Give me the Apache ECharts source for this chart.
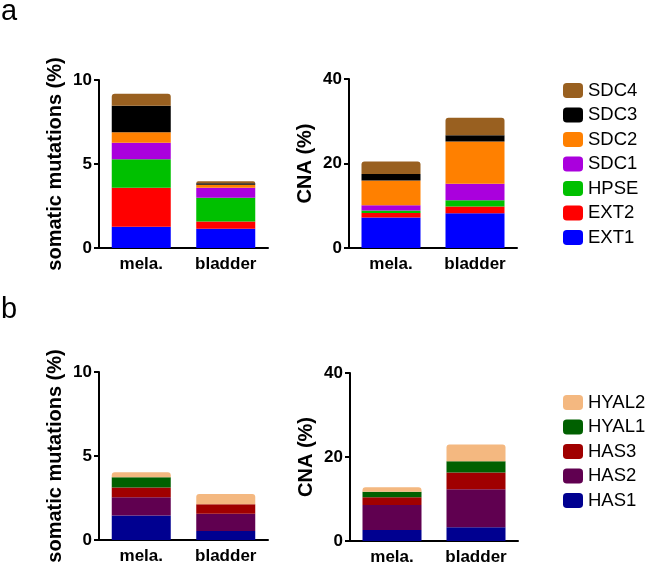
<!DOCTYPE html>
<html><head><meta charset="utf-8">
<script src="https://cdn.jsdelivr.net/npm/echarts@6/dist/echarts.min.js"></script>
<style>html,body{margin:0;padding:0;background:#fff}#c{width:645px;height:566px}</style>
</head><body><div id="c"></div>
<script>
const categories = ['mela.', 'bladder'];
const genesA = ['EXT1', 'EXT2', 'HPSE', 'SDC1', 'SDC2', 'SDC3', 'SDC4'];
const genesB = ['HAS1', 'HAS2', 'HAS3', 'HYAL1', 'HYAL2'];
// panel a: somatic mutations (%), per gene in genesA order
const mutA_mela    = [1.27, 2.32, 1.69, 0.99, 0.62, 1.58, 0.71];
const mutA_bladder = [1.15, 0.42, 1.42, 0.60, 0.17, 0.10, 0.12];
// panel a: CNA (%)
const cnaA_mela    = [7.2, 1.1, 0.6, 1.2, 5.9, 1.5, 3.0];
const cnaA_bladder = [8.2, 1.6, 1.5, 3.9, 10.0, 1.5, 4.1];
// panel b: somatic mutations (%), per gene in genesB order
const mutB_mela    = [1.46, 1.09, 0.57, 0.61, 0.30];
const mutB_bladder = [0.53, 1.03, 0.57, 0.0, 0.61];
// panel b: CNA (%)
const cnaB_mela    = [2.6, 6.0, 1.8, 1.3, 1.1];
const cnaB_bladder = [3.25, 9.05, 4.0, 2.7, 4.0];
const mutTicks = [0, 5, 10];
const cnaTicks = [0, 20, 40];

const colorsA = ['#0000FF', '#FF0000', '#00C000', '#AA00DD', '#FF8000', '#000000', '#996020'];
const colorsB = ['#000090', '#600050', '#A00000', '#006000', '#F4B880'];

const FONT = '"Liberation Sans", Arial, sans-serif';
const grids = [
  {left: 99, top: 80, width: 169, height: 168},
  {left: 349, top: 79, width: 168, height: 169},
  {left: 99, top: 372, width: 169, height: 168},
  {left: 350, top: 373, width: 168, height: 168}
];
const yNames = ['somatic mutations (%)', 'CNA (%)', 'somatic mutations (%)', 'CNA (%)'];
const yTicks = [mutTicks, cnaTicks, mutTicks, cnaTicks];

const xAxis = grids.map((g, i) => ({
  type: 'category', gridIndex: i, data: categories,
  axisLine: {lineStyle: {color: '#000', width: 2}},
  axisTick: {alignWithLabel: true, length: 5, lineStyle: {color: '#000', width: 2}},
  axisLabel: {color: '#000', fontFamily: FONT, fontWeight: 'bold', fontSize: 17, margin: 8}
}));
const yAxis = grids.map((g, i) => ({
  type: 'value', gridIndex: i,
  min: yTicks[i][0], max: yTicks[i][yTicks[i].length - 1], interval: yTicks[i][1] - yTicks[i][0],
  name: yNames[i], nameLocation: 'middle', nameRotate: 90, nameGap: 34,
  nameTextStyle: {color: '#000', fontFamily: FONT, fontWeight: 'bold', fontSize: 20},
  axisLine: {show: true, lineStyle: {color: '#000', width: 2}},
  axisTick: {show: true, length: 5, lineStyle: {color: '#000', width: 2}},
  splitLine: {show: false},
  axisLabel: {color: '#000', fontFamily: FONT, fontWeight: 'bold', fontSize: 17, margin: 7}
}));

const series = [];
function addPanel(idx, genes, colors, mela, bladder) {
  genes.forEach((name, k) => {
    series.push({
      type: 'bar', name: name, xAxisIndex: idx, yAxisIndex: idx, stack: 's' + idx,
      barWidth: 59, itemStyle: {color: colors[k], borderRadius: k === genes.length - 1 ? [3, 3, 0, 0] : 0},
      data: [mela[k], bladder[k]]
    });
  });
}
addPanel(0, genesA, colorsA, mutA_mela, mutA_bladder);
addPanel(1, genesA, colorsA, cnaA_mela, cnaA_bladder);
addPanel(2, genesB, colorsB, mutB_mela, mutB_bladder);
addPanel(3, genesB, colorsB, cnaB_mela, cnaB_bladder);

const legendCommon = {
  orient: 'vertical', itemWidth: 20, itemHeight: 15, itemGap: 5.5, icon: 'roundRect',
  textStyle: {color: '#000', fontFamily: FONT, fontSize: 18.5, padding: [0, 0, 0, 0]},
  selectedMode: false
};

const chart = echarts.init(document.getElementById('c'), null, {renderer: 'canvas'});
chart.setOption({
  animation: false,
  grid: grids.map(g => Object.assign({containLabel: false}, g)),
  xAxis: xAxis, yAxis: yAxis, series: series,
  legend: [
    Object.assign({left: 558, top: 76, data: genesA.slice().reverse()}, legendCommon),
    Object.assign({left: 558, top: 388, data: genesB.slice().reverse()}, legendCommon)
  ],
  graphic: [
    {type: 'text', x: 1, y: 12, style: {text: 'a', font: '29px ' + FONT, fill: '#000', textVerticalAlign: 'middle'}},
    {type: 'text', x: 1, y: 310, style: {text: 'b', font: '29px ' + FONT, fill: '#000', textVerticalAlign: 'middle'}}
  ]
});
</script></body></html>
